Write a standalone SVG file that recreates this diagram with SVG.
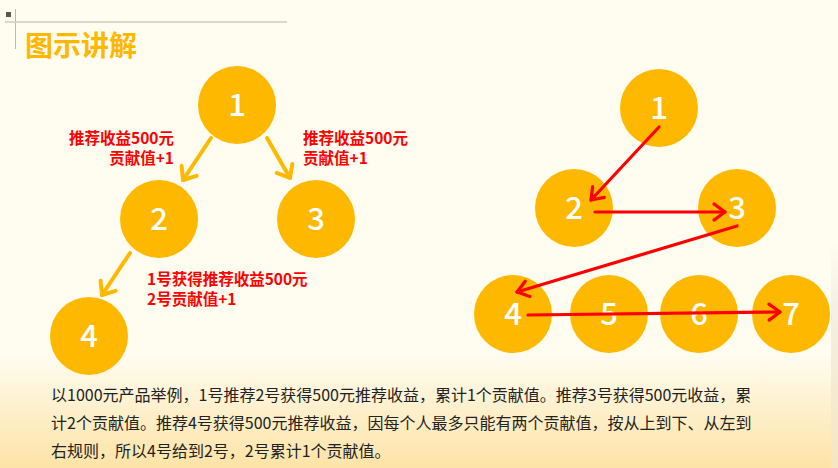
<svg xmlns="http://www.w3.org/2000/svg" width="838" height="468" viewBox="0 0 838 468">
<defs>
<linearGradient id="bg" x1="0" y1="0" x2="0" y2="1">
<stop offset="0" stop-color="#FFFCF0"/>
<stop offset="0.76" stop-color="#FFFCF0"/>
<stop offset="1" stop-color="#FDE3A6"/>
</linearGradient>
<linearGradient id="edge" x1="0" y1="0" x2="0" y2="1">
<stop offset="0" stop-color="#F4F0E4" stop-opacity="0"/>
<stop offset="0.3" stop-color="#F4F0E4" stop-opacity="1"/>
<stop offset="1" stop-color="#F7E6C0" stop-opacity="1"/>
</linearGradient>
<marker id="oa" markerUnits="userSpaceOnUse" orient="auto" refX="0" refY="0" markerWidth="30" markerHeight="30" viewBox="-15 -15 30 30" overflow="visible">
<path d="M-11,-9 L0,0 L-11,9" fill="none" stroke="#FFB800" stroke-width="4" stroke-linecap="round" stroke-linejoin="round"/>
</marker>
<marker id="ra" markerUnits="userSpaceOnUse" orient="auto" refX="0" refY="0" markerWidth="30" markerHeight="30" viewBox="-15 -15 30 30" overflow="visible">
<path d="M-11,-8 L0,0 L-11,8" fill="none" stroke="#FF0000" stroke-width="3.2" stroke-linecap="round" stroke-linejoin="round"/>
</marker>
</defs>
<style>
.c{fill:#FFB800}
.n{fill:#FFFFFF;font-family:"Noto Sans CJK SC","Noto Sans",sans-serif;font-size:31px;font-weight:500;text-anchor:middle}
.lbl{fill:#FF0000;font-family:"Noto Sans CJK SC",sans-serif;font-size:15.5px;font-weight:bold}
.body{fill:#222222;font-family:"Noto Sans CJK SC",sans-serif;font-size:16px}
.oa{stroke:#FFB800;stroke-width:4;stroke-linecap:round;fill:none}
.ra{stroke:#FF0000;stroke-width:3.2;stroke-linecap:round;fill:none}
</style>
<rect x="0" y="0" width="838" height="468" fill="url(#bg)"/>
<rect x="831" y="240" width="7" height="228" fill="url(#edge)"/>
<g id="header">
<rect x="6" y="12" width="5" height="5" fill="#5A5848"/>
<line x1="15.5" y1="9" x2="15.5" y2="49" stroke="#BDBAB0" stroke-width="1"/>
<line x1="5" y1="22" x2="287" y2="22" stroke="#CFCCC2" stroke-width="1.5"/>
<text x="25" y="56" fill="#FFB800" font-family="Noto Sans CJK SC,sans-serif" font-size="28" font-weight="bold">图示讲解</text>
</g>
<g id="L1"><circle class="c" cx="237" cy="105" r="39"/><text class="n" x="237" y="116">1</text></g>
<g id="L2"><circle class="c" cx="159" cy="219" r="39"/><text class="n" x="159" y="230">2</text></g>
<g id="L3"><circle class="c" cx="316" cy="219" r="39"/><text class="n" x="316" y="230">3</text></g>
<g id="L4"><circle class="c" cx="89" cy="336" r="39"/><text class="n" x="89" y="347">4</text></g>
<g id="R1"><circle class="c" cx="659" cy="108" r="39"/><text class="n" x="659" y="119">1</text></g>
<g id="R2"><circle class="c" cx="574" cy="208" r="39"/><text class="n" x="574" y="219">2</text></g>
<g id="R3"><circle class="c" cx="737" cy="208" r="39"/><text class="n" x="737" y="219">3</text></g>
<g id="R4"><circle class="c" cx="513" cy="314" r="39"/><text class="n" x="513" y="325">4</text></g>
<g id="R5"><circle class="c" cx="609" cy="314" r="39"/><text class="n" x="609" y="325">5</text></g>
<g id="R6"><circle class="c" cx="699" cy="314" r="39"/><text class="n" x="699" y="325">6</text></g>
<g id="R7"><circle class="c" cx="791" cy="314" r="39"/><text class="n" x="791" y="325">7</text></g>
<g id="connectors">
<line class="oa" x1="211" y1="138" x2="183" y2="180" marker-end="url(#oa)"/>
<line class="oa" x1="267" y1="138" x2="290" y2="178" marker-end="url(#oa)"/>
<line class="oa" x1="130" y1="253" x2="102" y2="295" marker-end="url(#oa)"/>
<line class="ra" x1="659" y1="127" x2="591" y2="200" marker-end="url(#ra)"/>
<line class="ra" x1="595" y1="212" x2="725" y2="212" marker-end="url(#ra)"/>
<line class="ra" x1="737" y1="226" x2="517" y2="292" marker-end="url(#ra)"/>
<line class="ra" x1="528" y1="315" x2="780" y2="312" marker-end="url(#ra)"/>
</g>
<g id="labels">
<text class="lbl" x="174" y="144" text-anchor="end">推荐收益500元</text>
<text class="lbl" x="174" y="164" text-anchor="end">贡献值+1</text>
<text class="lbl" x="303" y="144">推荐收益500元</text>
<text class="lbl" x="303" y="164">贡献值+1</text>
<text class="lbl" x="147" y="285">1号获得推荐收益500元</text>
<text class="lbl" x="147" y="305">2号贡献值+1</text>
</g>
<g id="body">
<text class="body" x="51" y="401">以1000元产品举例，1号推荐2号获得500元推荐收益，累计1个贡献值。推荐3号获得500元收益，累</text>
<text class="body" x="51" y="429">计2个贡献值。推荐4号获得500元推荐收益，因每个人最多只能有两个贡献值，按从上到下、从左到</text>
<text class="body" x="51" y="457">右规则，所以4号给到2号，2号累计1个贡献值。</text>
</g>
</svg>
